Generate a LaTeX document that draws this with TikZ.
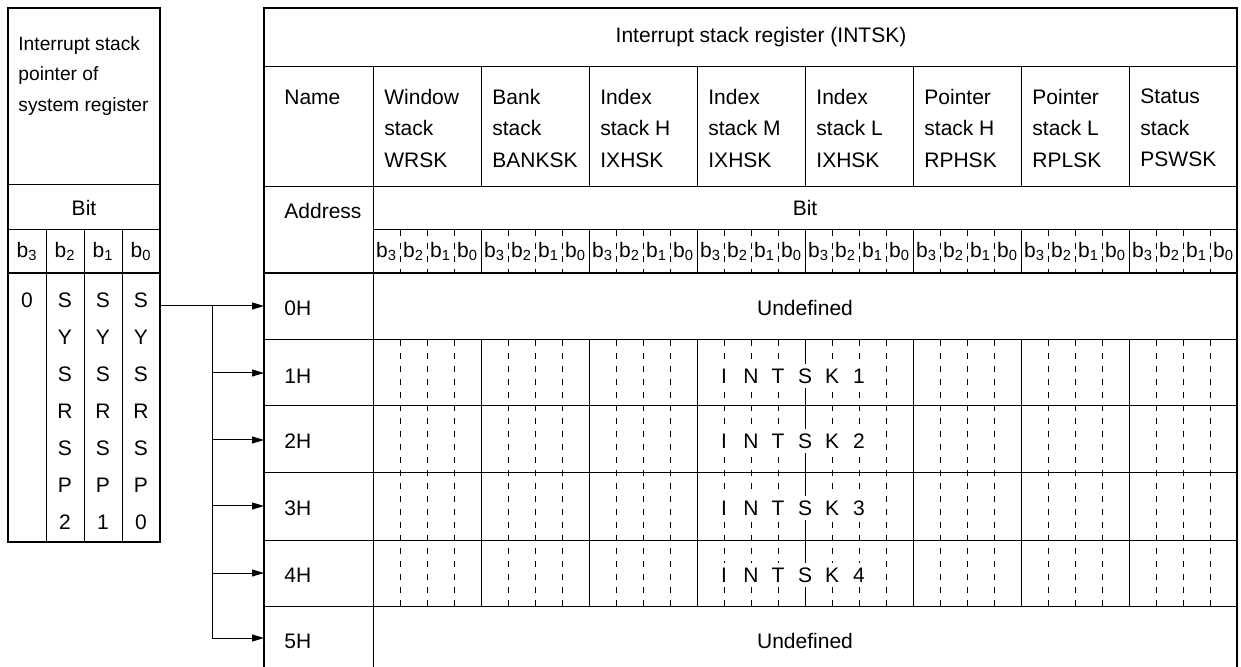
\documentclass[tikz,border=0pt]{standalone}
\usepackage{fontspec}
\setmainfont{Liberation Sans}
\usetikzlibrary{arrows.meta}

\begin{document}
\begin{tikzpicture}[x=0.5pt,y=-0.5pt,frame/.style={line width=1.3pt,draw=black},rule/.style={line width=0.5pt,draw=black},bitrule/.style={line width=0.5pt,draw=black,dash pattern=on 3pt off 3.5pt},txt/.style={inner sep=0pt,font=\fontsize{10.5}{15.75}\selectfont,align=left},ltr/.style={txt,fill=white,inner xsep=0.5pt,inner ysep=2.5pt},ptr/.style={-{Triangle[length=6pt,width=3.5pt]},line width=0.5pt,draw=black}]
\useasboundingbox (0,0) rectangle (1241,667);

% left table: stack pointer of the system register
\draw[rule] (8,185)--(160,185) (8,230)--(160,230);
\foreach \x in {46,84,122} \draw[rule] (\x,230)--(\x,542);
\draw[frame] (8,273)--(160,273);
\draw[frame] (8,8) rectangle (160,542);
\node[txt,anchor=west,font=\fontsize{9.6}{15.25}\selectfont] (sp) at (18,76) {Interrupt stack\\pointer of\\system register};
\node[txt] (spbit) at (84,208) {Bit};
\foreach \b [count=\i from 0] in {3,2,1,0} \node[txt] (sb\b) at (27+38*\i,251.5) {b\textsubscript{\b}};
\node[txt] (sz) at (27,300) {0};
\foreach \c/\x/\s in {1/65/2,2/103/1,3/141/0} \foreach \ch [count=\j from 0] in {S,Y,S,R,S,P,\s} \node[txt] (s\c-\j) at (\x,300+37*\j) {\ch};

% right table: INTSK
\draw[rule] (264,67)--(1237,67) (264,187)--(1237,187) (373,230)--(1237,230);
\foreach \y in {340,406,473,540,606} \draw[rule] (264,\y)--(1237,\y);
\draw[rule] (373,67)--(373,667);
\foreach \g in {1,...,7} \draw[rule] (373+108*\g,67)--(373+108*\g,187) (373+108*\g,230)--(373+108*\g,273) (373+108*\g,340)--(373+108*\g,606);
\foreach \g in {0,...,7} \foreach \k in {1,2,3} \draw[bitrule] (373+108*\g+27*\k,230)--(373+108*\g+27*\k,273) (373+108*\g+27*\k,340)--(373+108*\g+27*\k,606);
\draw[frame] (264,667)--(264,8)--(1237,8)--(1237,667);
\draw[frame] (264,273)--(1237,273);

\node[txt] (title) at (761,37) {Interrupt stack register (INTSK)};
\node[txt,anchor=west] (name) at (284,97) {Name};
\foreach \t [count=\i from 0] in {{Window\\stack\\WRSK},{Bank\\stack\\BANKSK},{Index\\stack H\\IXHSK},{Index\\stack M\\IXHSK},{Index\\stack L\\IXHSK},{Pointer\\stack H\\RPHSK},{Pointer\\stack L\\RPLSK},{Status\\stack\\PSWSK}} \node[txt,anchor=west] (h\i) at (384+108*\i,128) {\t};
\node[txt,anchor=west] (addr) at (284,211) {Address};
\node[txt] (bit) at (805,208) {Bit};
\foreach \g in {0,...,7} \foreach \b [count=\k from 0] in {3,2,1,0} \node[txt] (b\g-\b) at (386.5+108*\g+27*\k,251.5) {b\textsubscript{\b}};

\foreach \r/\y in {0/308,1/376,2/441,3/508,4/575,5/641} \node[txt,anchor=west] (a\r) at (284,\y) {\r H};
\node[txt] (u0) at (805,308) {Undefined};
\node[txt] (u5) at (805,641) {Undefined};
\foreach \r/\y in {1/376,2/441,3/508,4/575} \foreach \ch [count=\k from 0] in {I,N,T,S,K,\r} \node[ltr] (k\r-\k) at (724+27*\k,\y) {\ch};

% pointer arrows
\coordinate (src) at (160,306);
\coordinate (fork) at (212,306);
\foreach \r/\y in {0/306,1/373,2/440,3/506,4/573,5/638} \coordinate (in\r) at (264,\y);
\draw[ptr] (src)--(in0);
\draw[rule] (fork)--(fork |- in5);
\foreach \r in {1,...,5} \draw[ptr] (fork |- in\r)--(in\r);
\end{tikzpicture}
\end{document}
